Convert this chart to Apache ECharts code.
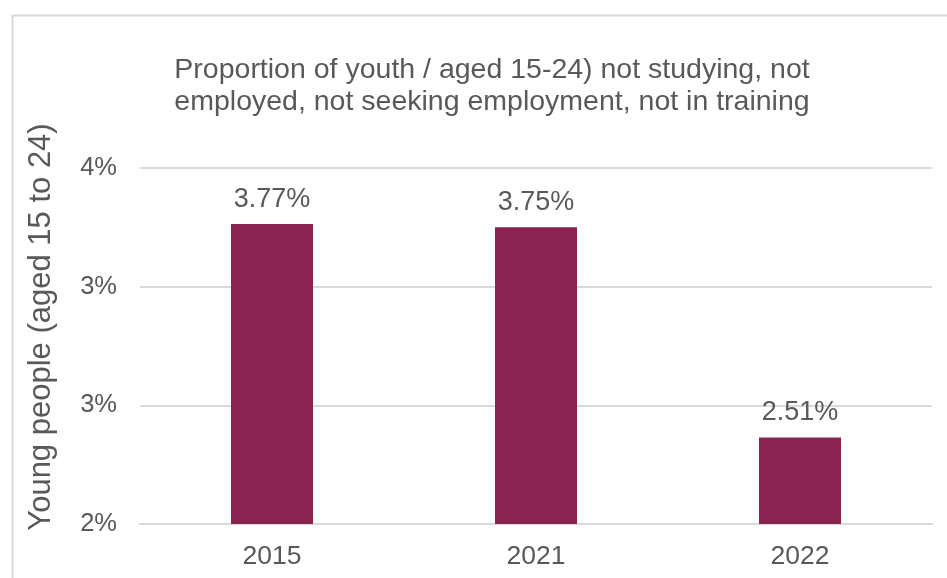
<!DOCTYPE html>
<html>
<head>
<meta charset="utf-8">
<script src="https://cdn.jsdelivr.net/npm/echarts@6/dist/echarts.min.js"></script>
<style>
  html, body { margin: 0; padding: 0; background: #ffffff; }
  #chart { width: 947px; height: 578px; }
</style>
</head>
<body>
<div id="chart"></div>
<script>
// Youth not in education, employment or training, by year
const years = ['2015', '2021', '2022'];
const shareValues = [3.77, 3.75, 2.51];

const titleText = 'Proportion of youth / aged 15-24) not studying, not\nemployed, not seeking employment, not in training';
const axisTitle = 'Young people (aged 15 to 24)';

const textColor = '#595959';
const fontFamily = '"Liberation Sans", Arial, sans-serif';

const chart = echarts.init(document.getElementById('chart'), null, { renderer: 'canvas' });

chart.setOption({
  backgroundColor: '#ffffff',
  animation: false,
  graphic: [{
    type: 'rect',
    shape: { x: 12.5, y: 15.5, width: 960, height: 620 },
    style: { fill: 'none', stroke: '#d9d9d9', lineWidth: 2 },
    silent: true,
    z: 0
  }],
  title: {
    text: titleText,
    left: 487,
    textAlign: 'center',
    top: 49,
    textStyle: {
      fontFamily: fontFamily,
      fontSize: 28.5,
      fontWeight: 'normal',
      color: textColor,
      lineHeight: 32
    }
  },
  grid: {
    left: 140,
    right: 15,
    top: 168,
    bottom: 54,
    containLabel: false
  },
  xAxis: {
    type: 'category',
    data: years,
    axisLine: { show: true, lineStyle: { color: '#d9d9d9', width: 2 } },
    axisTick: { show: false },
    axisLabel: {
      margin: 19,
      fontFamily: fontFamily,
      fontSize: 26.5,
      color: textColor
    }
  },
  yAxis: {
    type: 'value',
    min: 2,
    max: 4.1,
    interval: 0.7,
    name: axisTitle,
    nameLocation: 'middle',
    nameGap: 83,
    nameTextStyle: {
      fontFamily: fontFamily,
      fontSize: 31,
      color: textColor,
      padding: [0, 0, 0, 38]
    },
    axisLine: { show: false },
    axisTick: { show: false },
    splitLine: { show: true, lineStyle: { color: '#d9d9d9', width: 2 } },
    axisLabel: {
      margin: 23,
      fontFamily: fontFamily,
      fontSize: 25.5,
      color: textColor,
      formatter: v => Math.round(v) + '%'
    }
  },
  series: [{
    type: 'bar',
    data: shareValues,
    barWidth: 82,
    itemStyle: { color: '#8a2350' },
    label: {
      show: true,
      position: 'top',
      distance: 11,
      fontFamily: fontFamily,
      fontSize: 27,
      color: textColor,
      formatter: p => p.value.toFixed(2) + '%'
    }
  }]
});
</script>
</body>
</html>
